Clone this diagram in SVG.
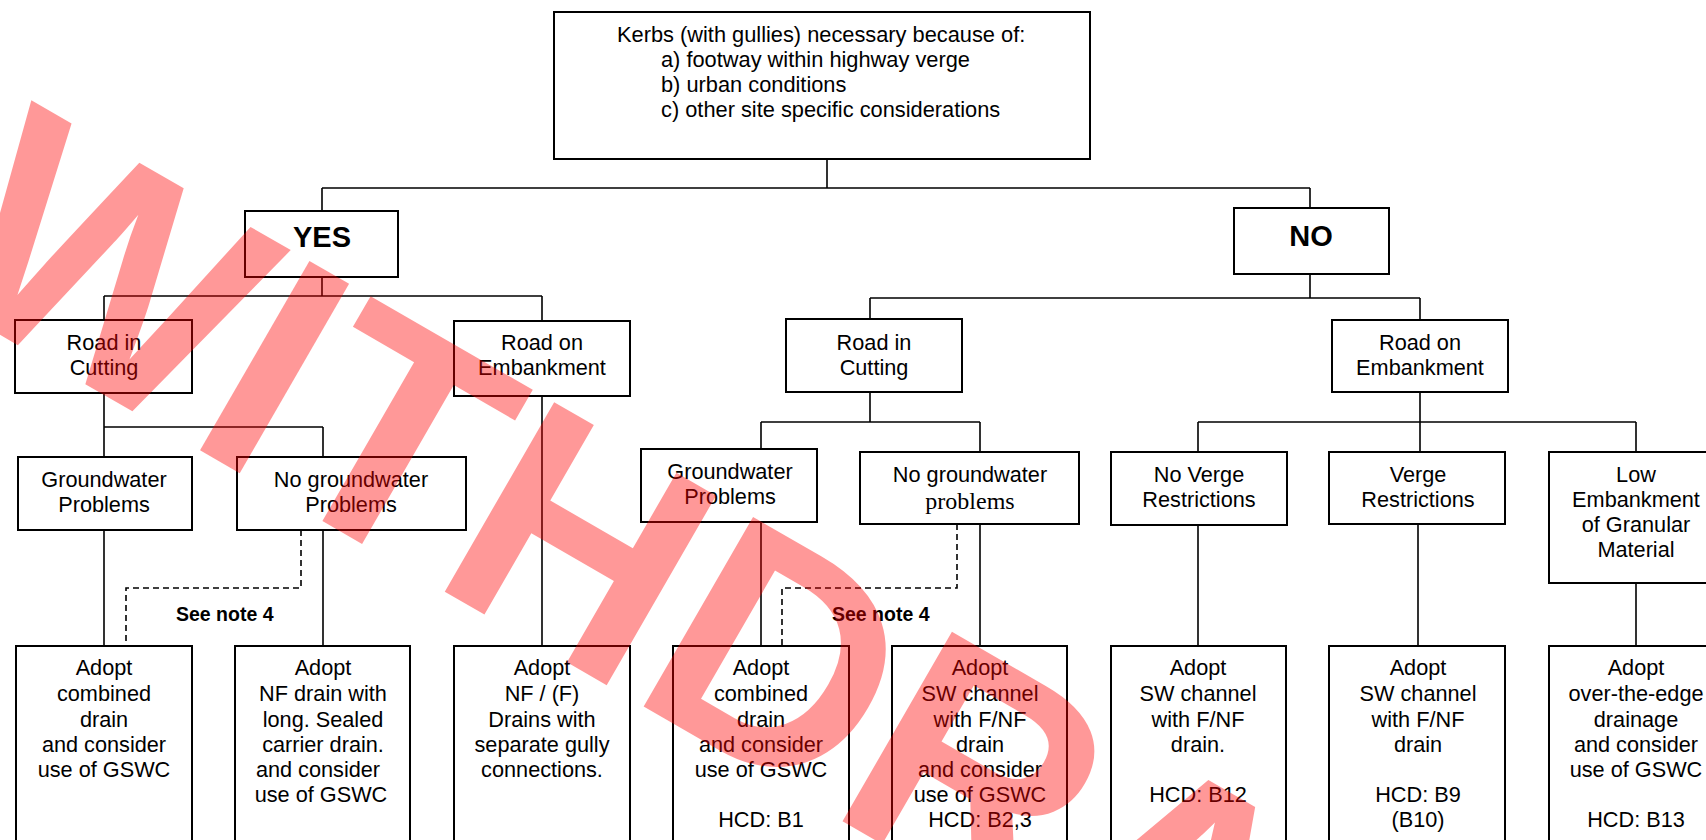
<svg xmlns="http://www.w3.org/2000/svg" width="1706" height="840" viewBox="0 0 1706 840">
<style>
.box{fill:#fff;stroke:#000;stroke-width:2}
.t{font-family:"Liberation Sans",Arial,sans-serif;font-size:21.7px;fill:#000;text-anchor:middle}
.tl{font-family:"Liberation Sans",Arial,sans-serif;font-size:21.8px;fill:#000}
.big{font-family:"Liberation Sans",Arial,sans-serif;font-size:29px;font-weight:bold;fill:#000;text-anchor:middle}
.note{font-family:"Liberation Sans",Arial,sans-serif;font-size:19.5px;font-weight:bold;fill:#000}
.serif{font-family:"Liberation Serif","Times New Roman",serif;font-size:24px}
.c{fill:none;stroke:#000;stroke-width:1.6}
.d{fill:none;stroke:#000;stroke-width:1.6;stroke-dasharray:6 4}
.wm{font-family:"Liberation Sans",Arial,sans-serif;font-size:318px;font-weight:bold;fill:#ff0000;opacity:0.4}
</style>
<rect width="1706" height="840" fill="#fff"/>
<g id="connectors">
<path class="c" d="M827 159V188M322 188H1310M322 188V211M1310 188V209"/>
<path class="c" d="M322 277V296M104 296H542M104 296V321M542 296V321"/>
<path class="c" d="M1310 274V298M870 298H1420M870 298V319M1420 298V320"/>
<path class="c" d="M104 393V427M104 427H323M104 427V457M323 427V457"/>
<path class="c" d="M870 392V422M761 422H980M761 422V449M980 422V452"/>
<path class="c" d="M1420 392V422M1198 422H1636M1198 422V452M1420 422V452M1636 422V452"/>
<path class="c" d="M104 530V646M323 530V646M542 396V646M761 522V646M980 524V646M1198 525V646M1418 524V646M1636 583V646"/>
<path class="d" d="M301 530V588H126V646"/>
<path class="d" d="M957 524V588H782V646"/>
</g>
<g id="n-top">
<rect class="box" x="554" y="12" width="536" height="147"/>
<text class="tl" x="617" y="42">Kerbs (with gullies) necessary because of:</text>
<text class="tl" x="661" y="67">a) footway within highway verge</text>
<text class="tl" x="661" y="92">b) urban conditions</text>
<text class="tl" x="661" y="117">c) other site specific considerations</text>
</g>
<g id="n-yes"><rect class="box" x="245" y="211" width="153" height="66"/><text class="big" x="322" y="247">YES</text></g>
<g id="n-no"><rect class="box" x="1234" y="208" width="155" height="66"/><text class="big" x="1311" y="246">NO</text></g>
<g id="n-cut1"><rect class="box" x="15" y="320" width="177" height="73"/><text class="t" x="104" y="350">Road in</text><text class="t" x="104" y="375">Cutting</text></g>
<g id="n-emb1"><rect class="box" x="454" y="321" width="176" height="75"/><text class="t" x="542" y="350">Road on</text><text class="t" x="542" y="375">Embankment</text></g>
<g id="n-cut2"><rect class="box" x="786" y="319" width="176" height="73"/><text class="t" x="874" y="350">Road in</text><text class="t" x="874" y="375">Cutting</text></g>
<g id="n-emb2"><rect class="box" x="1332" y="320" width="176" height="72"/><text class="t" x="1420" y="350">Road on</text><text class="t" x="1420" y="375">Embankment</text></g>
<g id="n-gw1"><rect class="box" x="18" y="457" width="174" height="73"/><text class="t" x="104" y="487">Groundwater</text><text class="t" x="104" y="512">Problems</text></g>
<g id="n-ngw1"><rect class="box" x="237" y="457" width="229" height="73"/><text class="t" x="351" y="487">No groundwater</text><text class="t" x="351" y="512">Problems</text></g>
<g id="n-gw2"><rect class="box" x="641" y="449" width="176" height="73"/><text class="t" x="730" y="479">Groundwater</text><text class="t" x="730" y="504">Problems</text></g>
<g id="n-ngw2"><rect class="box" x="860" y="452" width="219" height="72"/><text class="t" x="970" y="482">No groundwater</text><text class="t serif" x="970" y="509">problems</text></g>
<g id="n-nvr"><rect class="box" x="1111" y="452" width="176" height="73"/><text class="t" x="1199" y="482">No Verge</text><text class="t" x="1199" y="507">Restrictions</text></g>
<g id="n-vr"><rect class="box" x="1329" y="452" width="176" height="72"/><text class="t" x="1418" y="482">Verge</text><text class="t" x="1418" y="507">Restrictions</text></g>
<g id="n-low"><rect class="box" x="1549" y="452" width="170" height="131"/><text class="t" x="1636" y="482">Low</text><text class="t" x="1636" y="507">Embankment</text><text class="t" x="1636" y="532">of Granular</text><text class="t" x="1636" y="557">Material</text></g>
<g id="note1"><text class="note" x="176" y="621">See note 4</text></g>
<g id="note2"><text class="note" x="832" y="621">See note 4</text></g>
<g id="a1"><rect class="box" x="16" y="646" width="176" height="210"/><text class="t" x="104" y="675">Adopt</text><text class="t" x="104" y="701">combined</text><text class="t" x="104" y="727">drain</text><text class="t" x="104" y="752">and consider</text><text class="t" x="104" y="777">use of GSWC</text></g>
<g id="a2"><rect class="box" x="235" y="646" width="175" height="210"/><text class="t" x="323" y="675">Adopt</text><text class="t" x="323" y="701">NF drain with</text><text class="t" x="323" y="727">long. Sealed</text><text class="t" x="323" y="752">carrier drain.</text><text class="t" x="318" y="777">and consider</text><text class="t" x="321" y="802">use of GSWC</text></g>
<g id="a3"><rect class="box" x="454" y="646" width="176" height="210"/><text class="t" x="542" y="675">Adopt</text><text class="t" x="542" y="701">NF / (F)</text><text class="t" x="542" y="727">Drains with</text><text class="t" x="542" y="752">separate gully</text><text class="t" x="542" y="777">connections.</text></g>
<g id="a4"><rect class="box" x="673" y="646" width="176" height="210"/><text class="t" x="761" y="675">Adopt</text><text class="t" x="761" y="701">combined</text><text class="t" x="761" y="727">drain</text><text class="t" x="761" y="752">and consider</text><text class="t" x="761" y="777">use of GSWC</text><text class="t" x="761" y="827">HCD: B1</text></g>
<g id="a5"><rect class="box" x="892" y="646" width="175" height="210"/><text class="t" x="980" y="675">Adopt</text><text class="t" x="980" y="701">SW channel</text><text class="t" x="980" y="727">with F/NF</text><text class="t" x="980" y="752">drain</text><text class="t" x="980" y="777">and consider</text><text class="t" x="980" y="802">use of GSWC</text><text class="t" x="980" y="827">HCD: B2,3</text></g>
<g id="a6"><rect class="box" x="1111" y="646" width="175" height="210"/><text class="t" x="1198" y="675">Adopt</text><text class="t" x="1198" y="701">SW channel</text><text class="t" x="1198" y="727">with F/NF</text><text class="t" x="1198" y="752">drain.</text><text class="t" x="1198" y="802">HCD: B12</text></g>
<g id="a7"><rect class="box" x="1329" y="646" width="176" height="210"/><text class="t" x="1418" y="675">Adopt</text><text class="t" x="1418" y="701">SW channel</text><text class="t" x="1418" y="727">with F/NF</text><text class="t" x="1418" y="752">drain</text><text class="t" x="1418" y="802">HCD: B9</text><text class="t" x="1418" y="827">(B10)</text></g>
<g id="a8"><rect class="box" x="1549" y="646" width="170" height="210"/><text class="t" x="1636" y="675">Adopt</text><text class="t" x="1636" y="701">over-the-edge</text><text class="t" x="1636" y="727">drainage</text><text class="t" x="1636" y="752">and consider</text><text class="t" x="1636" y="777">use of GSWC</text><text class="t" x="1636" y="827">HCD: B13</text></g>
<text class="wm" transform="rotate(30)" x="77" y="290">WITHDRAWN</text>
</svg>
